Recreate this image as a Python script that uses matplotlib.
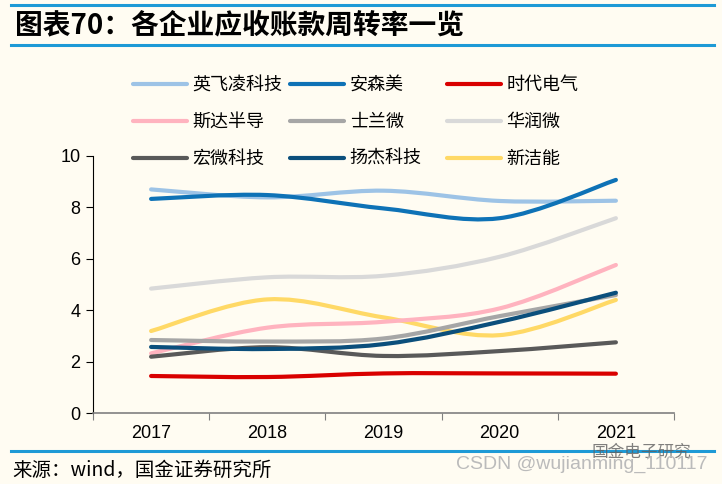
import numpy as np
import matplotlib.pyplot as plt
from matplotlib.path import Path
from matplotlib.patches import PathPatch
from matplotlib.lines import Line2D

plt.rcParams['font.family'] = ['Noto Sans CJK SC', 'DejaVu Sans']

years = ['2017', '2018', '2019', '2020', '2021']
names = ['英飞凌科技', '斯达半导', '宏微科技',
         '安森美', '士兰微', '扬杰科技',
         '时代电气', '华润微', '新洁能']
infineon = [8.70, 8.39, 8.65, 8.25, 8.26]
starpower = [2.32, 3.32, 3.55, 4.07, 5.76]
macmic = [2.19, 2.56, 2.22, 2.41, 2.75]
onsemi = [8.33, 8.48, 7.96, 7.58, 9.07]
silan = [2.84, 2.78, 2.90, 3.77, 4.59]
yangjie = [2.57, 2.49, 2.68, 3.55, 4.68]
crrc = [1.44, 1.40, 1.54, 1.54, 1.53]
crmicro = [4.84, 5.28, 5.34, 6.08, 7.58]
ncepower = [3.19, 4.42, 3.72, 3.03, 4.40]
series = [infineon, starpower, macmic, onsemi, silan, yangjie, crrc, crmicro, ncepower]
colors = ['#9DC3E6', '#FFB3BF', '#595959',
          '#0E72B6', '#A6A6A6', '#0B4F7C',
          '#D90000', '#D9D9D9', '#FFD966']
draw_order = [7, 0, 8, 1, 4, 2, 5, 3, 6]

bg = '#FFFCF2'
rule = '#1E9AD6'


def smooth_path(ys):
    pts = np.column_stack([np.arange(len(ys), dtype=float), np.asarray(ys, float)])
    n = len(pts)
    verts = [pts[0]]
    codes = [Path.MOVETO]
    for i in range(n - 1):
        p0 = pts[i - 1] if i > 0 else pts[i]
        p3 = pts[i + 2] if i + 2 < n else pts[i + 1]
        verts += [pts[i] + (pts[i + 1] - p0) / 6,
                  pts[i + 1] - (p3 - pts[i]) / 6,
                  pts[i + 1]]
        codes += [Path.CURVE4] * 3
    return Path(verts, codes)


fig = plt.figure(figsize=(7.22, 4.84), dpi=100, facecolor=bg)
ax = fig.add_axes([93 / 722, 1 - 413 / 484, (674 - 93) / 722, (413 - 156) / 484])
ax.set_facecolor(bg)

for i in draw_order:
    ax.add_patch(PathPatch(smooth_path(series[i]), fill=False, edgecolor=colors[i],
                           lw=3, capstyle='round', zorder=3))

ax.set_xlim(-0.5, len(years) - 0.5)
ax.set_ylim(0, 10)
ax.set_yticks(range(0, 11, 2))
ax.set_xticks(np.arange(len(years) + 1) - 0.5)
ax.set_xticklabels([])
ax.set_xticks(range(len(years)), minor=True)
ax.set_xticklabels(years, minor=True)
ax.tick_params(axis='x', which='major', direction='out', length=5, color='#808080')
ax.tick_params(axis='x', which='minor', length=0, pad=9)
ax.tick_params(axis='y', direction='out', length=5, pad=4)
for lab in ax.get_xticklabels(minor=True) + ax.get_yticklabels():
    lab.set_fontfamily('Liberation Sans')
    lab.set_fontsize(13)
ax.spines['top'].set_visible(False)
ax.spines['right'].set_visible(False)
ax.spines['bottom'].set_color('#808080')
ax.spines['bottom'].set_linewidth(1.2)

for c in range(3):
    handles = [Line2D([], [], color=colors[c * 3 + r], lw=3, solid_capstyle='round')
               for r in range(3)]
    leg = fig.legend(handles, names[c * 3:c * 3 + 3], loc='upper left',
                     bbox_to_anchor=((133 + 157 * c) / 722, 1 - 76 / 484),
                     frameon=False, fontsize=13, handlelength=3.0, handletextpad=0.3,
                     labelspacing=1.05, borderpad=0, borderaxespad=0)

fig.add_artist(Line2D([11 / 722, 714 / 722], [1 - 5 / 484, 1 - 5 / 484], color=rule, lw=2.2))
fig.add_artist(Line2D([11 / 722, 714 / 722], [1 - 45 / 484, 1 - 45 / 484], color=rule, lw=2.2))
fig.add_artist(Line2D([11 / 722, 714 / 722], [1 - 451 / 484, 1 - 451 / 484], color=rule, lw=2.2))
fig.text(15 / 722, 1 - 25 / 484, '图表70：各企业应收账款周转率一览', fontsize=20,
         fontweight='bold', style='italic', va='center', ha='left')
fig.text(12 / 722, 1 - 470 / 484, '来源：wind，国金证券研究所', fontsize=14,
         va='center', ha='left')
fig.text(592 / 722, 1 - 452 / 484, '国金电子研究', fontsize=12, color='#606060',
         va='center', ha='left', alpha=0.8)
fig.text(707 / 722, 1 - 464 / 484, 'CSDN @wujianming_110117', fontsize=14,
         color='#BBBBBB', va='center', ha='right', family='Liberation Sans')

fig.savefig('out.png', dpi=100, facecolor=bg)
